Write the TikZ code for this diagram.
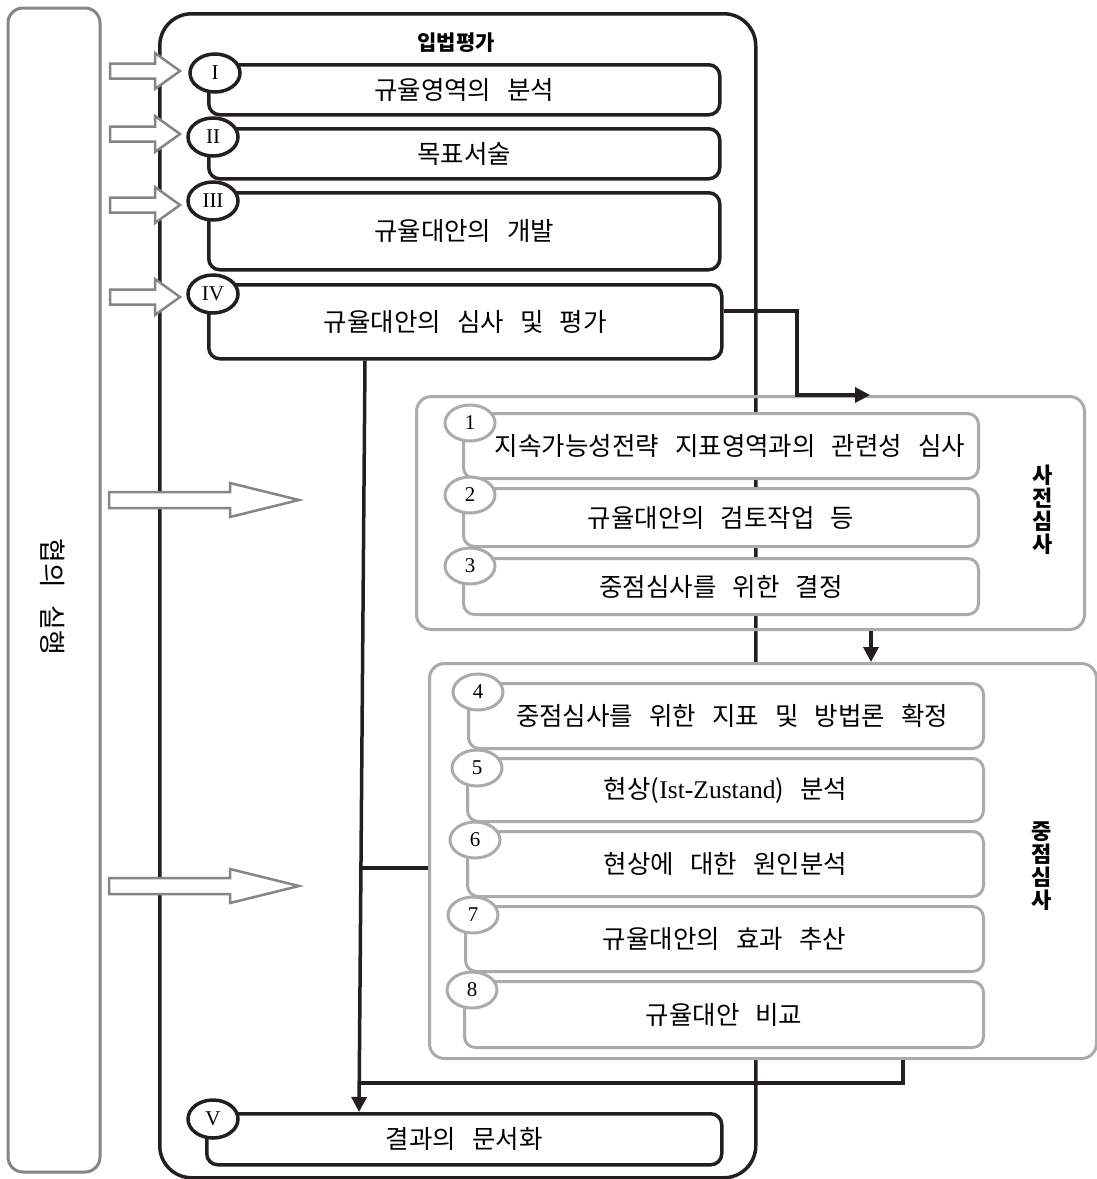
\documentclass[tikz,border=0pt]{standalone}
\usepackage{fontspec}
\setmainfont{Noto Sans CJK KR}[WordSpace=2.8]
\newfontfamily\serifnum{Liberation Serif}
\usetikzlibrary{arrows.meta,calc,shapes.geometric}
\definecolor{lgray}{HTML}{ABABAB}
\definecolor{dgray}{HTML}{858585}
\definecolor{ink}{HTML}{231F20}
\begin{document}
\begin{tikzpicture}[x=1pt,y=-1pt,
  txt/.style={font=\fontsize{25.5}{27}\selectfont},
  mainbox/.style={draw=ink, line width=3.5pt, rounded corners=11pt, fill=white, anchor=north west, inner sep=0pt, txt},
  graybox/.style={draw=lgray, line width=3pt, rounded corners=11pt, fill=white, anchor=north west, inner sep=0pt, txt},
  outerbox/.style={draw=lgray, line width=3pt, rounded corners=15pt, anchor=north west, inner sep=0pt},
  blackell/.style={draw=ink, line width=3.5pt, fill=white, ellipse, minimum width=50pt, minimum height=38pt, inner sep=0pt, font=\serifnum\fontsize{21}{21}\selectfont},
  grayell/.style={draw=lgray, line width=3pt, fill=white, ellipse, minimum width=50pt, minimum height=36pt, inner sep=0pt, font=\serifnum\fontsize{21}{21}\selectfont},
  conn/.style={draw=ink, line width=3.5pt},
  tipend/.style={-{Triangle[length=15pt,width=15pt]}},
  blockarrow/.style={draw=dgray, line width=2.5pt, fill=white, line join=miter},
  sidelabel/.style={align=center, font=\fontsize{22}{23}\selectfont\bfseries, inner sep=0pt}
]
\useasboundingbox (0,0) rectangle (1096,1179);

% left box
\draw[dgray, line width=3pt, rounded corners=15pt] (8,8) rectangle (100,1172);
\node[rotate=-90, font=\fontsize{27}{29}\selectfont, inner sep=0pt] (hyeop) at (53,597) {협의 실행};

% main box
\node[draw=ink, line width=3.5pt, rounded corners=32pt, anchor=north west, minimum width=596pt, minimum height=1164pt, inner sep=0pt] (mainframe) at (158,12) {};
\node[font=\fontsize{21}{22}\selectfont\bfseries, inner sep=0pt] (title) at (456,43) {입법평가};

% small block arrows
\foreach \yy in {71,134,205,297}{
  \draw[blockarrow] (110,\yy-7.5) -- (155,\yy-7.5) -- (155,\yy-18) -- (180,\yy) -- (155,\yy+18) -- (155,\yy+7.5) -- (110,\yy+7.5) -- cycle;
}
% big block arrows
\foreach \yy in {500,886}{
  \draw[blockarrow] (109,\yy-8) -- (230,\yy-8) -- (230,\yy-17) -- (299,\yy) -- (230,\yy+17) -- (230,\yy+8) -- (109,\yy+8) -- cycle;
}

% main steps
\node[mainbox, minimum width=511pt, minimum height=50pt] (bI) at (207,63) {\raisebox{-2pt}{규율영역의 분석}};
\node[blackell] (eI) at (215,73) {I};
\node[mainbox, minimum width=511pt, minimum height=50pt] (bII) at (207,127) {\raisebox{-3pt}{목표서술}};
\node[blackell] (eII) at (213,137) {II};
\node[mainbox, minimum width=511pt, minimum height=77pt] (bIII) at (207,191) {\raisebox{-3pt}{규율대안의 개발}};
\node[blackell] (eIII) at (213,201) {III};
\node[mainbox, minimum width=513pt, minimum height=74pt] (bIV) at (207,283) {규율대안의 심사 및 평가};
\node[blackell] (eIV) at (213,294) {IV};

% pre-review group
\node[outerbox, minimum width=668pt, minimum height=233pt] (sj) at (415,395) {};
\node[graybox, minimum width=515pt, minimum height=65pt] (s1) at (462,412) {\hspace*{18pt}\raisebox{-4pt}{지속가능성전략 지표영역과의 관련성 심사}};
\node[grayell] (n1) at (470,423) {1};
\node[graybox, minimum width=515pt, minimum height=58pt] (s2) at (462,487) {규율대안의 검토작업 등};
\node[grayell] (n2) at (470,495) {2};
\node[graybox, minimum width=515pt, minimum height=56pt] (s3) at (462,557) {\raisebox{-1pt}{중점심사를 위한 결정}};
\node[grayell] (n3) at (470,566) {3};
\node[sidelabel] (sjlab) at (1043,510) {사\\전\\심\\사};

% main-review group
\node[outerbox, fill=white, minimum width=667pt, minimum height=395pt] (jj) at (428,662) {};
\node[graybox, minimum width=515pt, minimum height=65pt] (s4) at (467,682) {\hspace*{12pt}중점심사를 위한 지표 및 방법론 확정};
\node[grayell] (n4) at (478,692) {4};
\node[graybox, minimum width=516pt, minimum height=63pt] (s5) at (466,757) {\raisebox{-1pt}{현상({\serifnum Ist-Zustand}) 분석}};
\node[grayell] (n5) at (477,768) {5};
\node[graybox, minimum width=516pt, minimum height=65pt] (s6) at (466,830) {현상에 대한 원인분석};
\node[grayell] (n6) at (475,840) {6};
\node[graybox, minimum width=518pt, minimum height=65pt] (s7) at (464,905) {규율대안의 효과 추산};
\node[grayell] (n7) at (473,915) {7};
\node[graybox, minimum width=519pt, minimum height=66pt] (s8) at (463,980) {규율대안 비교};
\node[grayell] (n8) at (472,990) {8};
\node[sidelabel] (jjlab) at (1042,866) {중\\점\\심\\사};

% result
\node[mainbox, minimum width=515pt, minimum height=51pt] (bV) at (205,1112) {\raisebox{-2pt}{결과의 문서화}};
\node[blackell] (eV) at (213,1119) {V};

% connectors
\coordinate (turn1) at ($(sj.north west)+(382,0)$);
\draw[conn, tipend] ($(bIV.east)+(0,-11)$) -| (turn1) -- ($(sj.north west)+(455,0)$);
\draw[conn, tipend] ($(sj.south west)+(456,0)$) -- ($(jj.north west)+(443,0)$);
\draw[conn, tipend] ($(bIV.south west)+(158,0)$) -- ($(bV.north west)+(154,0)$);
\draw[conn] (jj.west |- 0,868) -- (361,868);
\draw[conn] ($(jj.south west)+(475,0)$) |- (360,1083);
\end{tikzpicture}
\end{document}
